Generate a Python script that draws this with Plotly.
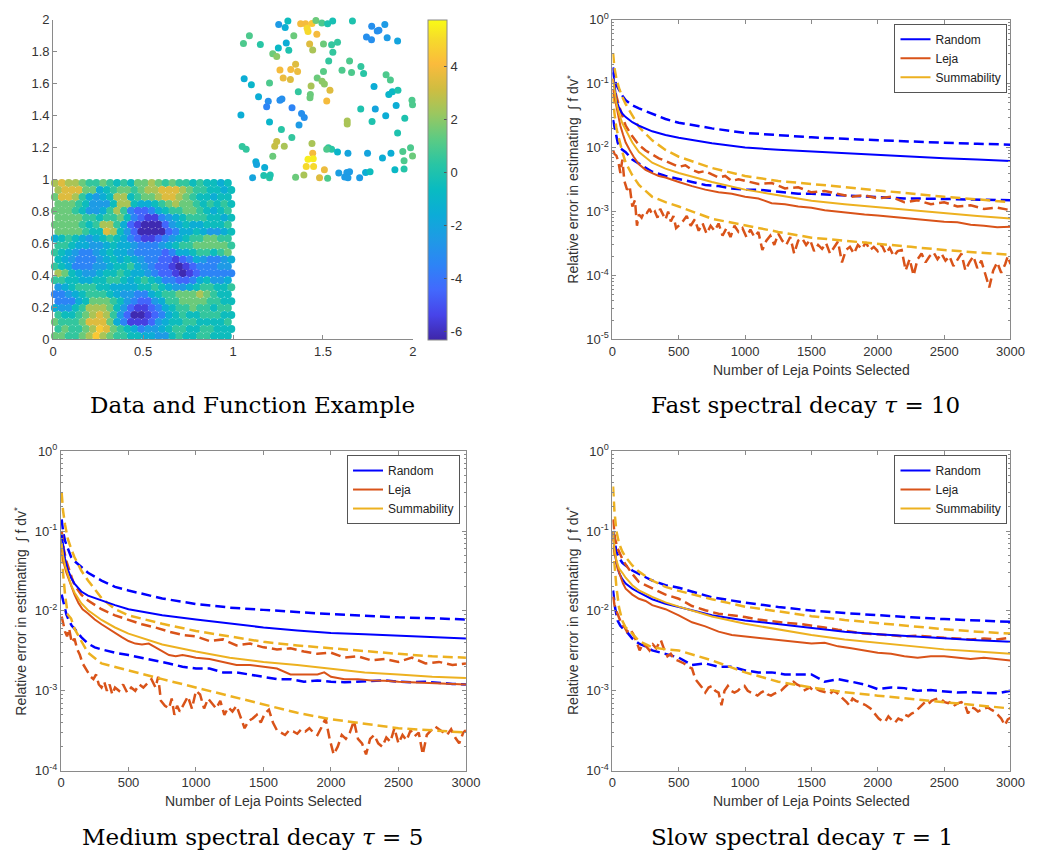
import plotly.graph_objects as go

W, H = 1052, 863

BLUE = "#0000FF"
RED = "#D95319"
GOLD = "#EDB120"
SANS = "Liberation Sans, Arial, Helvetica, sans-serif"
SERIF = "DejaVu Serif, serif"

# ---------------------------------------------------------------------------
# Scatter panel: sample points in [1,2]x[1,2] with their function values
# ---------------------------------------------------------------------------
UPPER_X = [1.254, 1.29, 1.305, 1.376, 1.403, 1.412, 1.417, 1.439, 1.461, 1.494, 1.526, 1.554, 1.664,
           1.771, 1.802, 1.811, 1.844, 1.466, 1.338, 1.091, 1.058, 1.152, 1.296, 1.742, 1.77, 1.857,
           1.915, 1.426, 1.503, 1.548, 1.581, 1.252, 1.31, 1.443, 1.555, 1.221, 1.243, 1.532, 1.648,
           1.711, 1.726, 1.348, 1.261, 1.321, 1.359, 1.503, 1.606, 1.659, 1.851, 1.875, 1.279, 1.319,
           1.062, 1.102, 1.468, 1.495, 1.508, 1.203, 1.434, 1.784, 1.539, 1.363, 1.43, 1.428, 1.866,
           1.886, 1.917, 1.142, 1.272, 1.261, 1.196, 1.521, 1.995, 1.998, 1.907, 1.187, 1.328, 1.71,
           1.791, 1.044, 1.381, 1.396, 1.849, 1.955, 1.635, 1.635, 1.203, 1.367, 1.773, 1.269, 1.915,
           1.327, 1.243, 1.232, 1.285, 1.439, 1.051, 1.073, 1.53, 1.548, 1.521, 1.581, 1.639, 1.748,
           1.878, 1.944, 1.987, 1.998, 1.443, 1.221, 1.831, 1.417, 1.446, 1.127, 1.131, 1.951, 1.407,
           1.448, 1.176, 1.508, 1.9, 1.951, 1.588, 1.633, 1.648, 1.737, 1.762, 1.109, 1.171, 1.203,
           1.207, 1.348, 1.394, 1.481, 1.526, 1.621, 1.639, 1.704]
UPPER_Y = [1.971, 1.951, 1.992, 1.975, 1.975, 1.947, 1.926, 1.977, 1.996, 1.98, 1.975, 1.992, 1.992,
           1.959, 1.93, 1.934, 1.971, 1.91, 1.9, 1.9, 1.852, 1.846, 1.855, 1.893, 1.875, 1.887,
           1.867, 1.848, 1.848, 1.844, 1.859, 1.824, 1.809, 1.811, 1.797, 1.787, 1.77, 1.742, 1.742,
           1.707, 1.664, 1.721, 1.686, 1.689, 1.676, 1.676, 1.684, 1.67, 1.656, 1.623, 1.635, 1.627,
           1.631, 1.594, 1.635, 1.615, 1.598, 1.605, 1.586, 1.582, 1.559, 1.549, 1.533, 1.512, 1.533,
           1.549, 1.559, 1.518, 1.504, 1.496, 1.49, 1.492, 1.496, 1.469, 1.463, 1.455, 1.449, 1.441,
           1.441, 1.404, 1.414, 1.389, 1.4, 1.383, 1.367, 1.348, 1.361, 1.342, 1.363, 1.314, 1.291,
           1.264, 1.238, 1.209, 1.209, 1.225, 1.207, 1.189, 1.199, 1.189, 1.189, 1.172, 1.164, 1.164,
           1.164, 1.176, 1.199, 1.148, 1.164, 1.146, 1.135, 1.127, 1.131, 1.111, 1.094, 1.117, 1.082,
           1.082, 1.076, 1.061, 1.061, 1.066, 1.041, 1.045, 1.049, 1.045, 1.049, 1.012, 1.025, 1.012,
           1.029, 1.014, 1.029, 1.012, 1.008, 1.016, 1.012, 1.012]
UPPER_F = [-2.5, -1.5, -0.5, 4, 4, 5, 5, 4.5, 1.5, 1, 0, -0.2, 0,
           -3, -3, -3, -2.5, 4, 1.5, 1, 1, 0.3, -1.5, -3, -3, -2.5,
           -2, 3.5, 1.5, 0.5, 0.5, -0.8, 0, 2.5, 0.5, 1.5, 2, 0.5, 1,
           0.5, 0.3, 3.5, 4, 4, 3.8, 1.2, 1, 1, 1, 1, 3.8, 3.5,
           -1.5, -1, 1.5, 2, 2, 1, 2.5, -1.5, 3.5, 0.5, 1.5, 1.5, -1,
           -0.8, 0, -1.5, -3, -3, -3, 4, 1, 1, -1.5, -3.5, -3.5, 0,
           -2, -1.5, -3, -3, -1.5, 0, 2.5, 2.5, -1, -2.5, 0, 0.3, 0,
           0.5, 3, 3, 2.5, 2.5, 0.5, 0.5, 0.5, 0.3, 1, -1, -2, -2,
           -1.5, 1, 1, 1.5, 4, 1.5, -1.5, 5.5, 5.5, -1.5, -2, 1, 5,
           5, -1.5, 3.8, -0.8, 0.2, -2.3, -2.5, -2.5, -1.5, -0.5, -2, 0, 0.3,
           0, 1.5, 2.5, 3.5, 1, -2.5, -2.5, -2.5]

# Dense block [0,1]x[0,1]: function level at each site of a staggered
# 26 x 23 sampling lattice, rows listed from y = 1 down to y = 0.
LOWER_ROWS = [
    "JKJJIHHIHGHGIIJIHIHHGHGGFG",
    "JKKKIIFGHIIHIJJKKKJIHHGGFG",
    "IKKJHFEFGJJGHIIJKKJIHGGFGG",
    "IIIHGEEEGJJGFFGHIJIIHGHGHG",
    "IIIHGEEFHJHDCCDFGHHIIHGFGH",
    "IIIIHHGHHIGDCBBDEFGHHHGGFG",
    "IIIIHGHJJHFCBAAACEFGFFGGGH",
    "IIIIHGGKJGECAAAACDFFGFEEFG",
    "FGHGFEFGHGFDCBBCDEFGHHIIHH",
    "HHGFFEEFGFFEDDDEFGHHIIIIIH",
    "HGFEDDEFGFFEDDDDCDFFGHHGHI",
    "GFEDDDEFGFGFEDDCCBCDFEDDEF",
    "HGFDDDEEFGGHFEDCCBABCDDDEE",
    "JIGFEEFGGHGFFEDCCBABCDDDDD",
    "HHGGFFGGHHGFGHGFDDCCDFGEEF",
    "EFGHHHGGFFFFGGHGFEEFGHHGGH",
    "DDEFGHHHGFEEDDFGHHIIIJIHGG",
    "DDDFGIIIHGEDCCEFHHIIIIHHGG",
    "FEEGHJJJIGECBBCDFGHHIHHGHH",
    "HGGHIJKJHECAABCDFGHGGHHHGG",
    "IHHHIKKKIFDBBBCEFGGHHGGGGH",
    "HIHHIJLKIHGFDEEFGHHGGHHGGG",
    "IIHHIJLJIHHGGFFEEGHGGHHGGG",
]
LEVEL_VALUES = {"A": -6.2, "B": -5.5, "C": -4.5, "D": -3.5, "E": -2.5, "F": -1.5, "G": -0.5,
                "H": 0.5, "I": 1.5, "J": 2.5, "K": 3.5, "L": 4.5, "M": 5.5}

COLOR_MIN, COLOR_MAX = -6.33, 5.78
CBAR_TICKS = [-6, -4, -2, 0, 2, 4]

# ---------------------------------------------------------------------------
# Error curves (relative error vs number of Leja points)
# ---------------------------------------------------------------------------
N_SMOOTH = [5, 15, 30, 50, 75, 100, 150, 200, 300, 400, 500, 750, 1000, 1250, 1500, 1750, 2000,
            2250, 2500, 2750, 3000]
N_STEP = [5, 20, 40, 60, 80, 100, 150, 200, 250, 300, 400, 500, 600, 700, 800, 900, 1000, 1100,
          1200, 1300, 1400, 1500, 1600, 1700, 1800, 1900, 2000, 2100, 2200, 2300, 2400, 2500,
          2600, 2700, 2800, 2900, 3000]

# --- fast spectral decay, tau = 10 ---
FAST_RAND_MID = [0.15, 0.09, 0.055, 0.042, 0.034, 0.03, 0.025, 0.022, 0.018, 0.0158, 0.0143, 0.0117,
                 0.01, 0.0093, 0.0087, 0.0081, 0.0076, 0.0072, 0.0068, 0.0065, 0.0062]
FAST_RAND_HI = [0.18, 0.12, 0.095, 0.08, 0.065, 0.055, 0.046, 0.041, 0.034, 0.028, 0.0245, 0.02,
                0.017, 0.0155, 0.0145, 0.0137, 0.013, 0.0124, 0.0119, 0.0115, 0.0111]
FAST_RAND_LO = [0.027, 0.018, 0.012, 0.0098, 0.009, 0.0085, 0.0065, 0.0056, 0.0048, 0.0042, 0.0036,
                0.0032, 0.0029, 0.0026, 0.0025, 0.0023, 0.0022, 0.0022, 0.0021, 0.002, 0.0019, 0.0019,
                0.00185, 0.0018, 0.00175, 0.00175, 0.0017, 0.00165, 0.0016, 0.0016, 0.00158, 0.0016,
                0.00155, 0.00152, 0.0015, 0.0015, 0.0015]
FAST_SUM_MID = [0.12, 0.08, 0.05, 0.034, 0.024, 0.019, 0.012, 0.0085, 0.0058, 0.0047, 0.004, 0.0029,
                0.0022, 0.0018, 0.00148, 0.0013, 0.00117, 0.00104, 0.00093, 0.00085, 0.00078]
FAST_SUM_HI = [0.3, 0.18, 0.12, 0.085, 0.062, 0.048, 0.032, 0.021, 0.013, 0.0092, 0.0072, 0.0048,
               0.0036, 0.003, 0.0027, 0.0024, 0.0021, 0.0019, 0.0017, 0.00155, 0.0014]
FAST_SUM_LO = [0.07, 0.035, 0.02, 0.013, 0.0085, 0.0058, 0.0037, 0.0026, 0.0017, 0.0014, 0.0012,
               0.00077, 0.0006, 0.00048, 0.00039, 0.00035, 0.00032, 0.00028, 0.00025, 0.00023, 0.00021]
FAST_LEJA_MID_N = [5, 20, 40, 60, 80, 100, 130, 160, 200, 250, 300, 350, 400, 450, 500, 600, 700, 800,
                   900, 1000, 1100, 1200, 1300, 1400, 1500, 1600, 1700, 1800, 1900, 2000, 2100, 2200,
                   2300, 2400, 2500, 2600, 2700, 2800, 2900, 3000]
FAST_LEJA_MID = [0.08, 0.055, 0.033, 0.022, 0.016, 0.012, 0.0092, 0.0072, 0.0055, 0.0045, 0.004, 0.0036,
                 0.0034, 0.0031, 0.0029, 0.0025, 0.0022, 0.002, 0.0019, 0.0017, 0.0016, 0.00135, 0.0013,
                 0.0012, 0.00115, 0.00105, 0.001, 0.00093, 0.0009, 0.00087, 0.00083, 0.00081, 0.00077,
                 0.00073, 0.00069, 0.00068, 0.00062, 0.0006, 0.00057, 0.00058]
FAST_LEJA_HI_N = [5, 25, 50, 75, 100, 150, 200, 250, 300, 350, 400, 450, 500, 550, 600, 650, 700, 750,
                  800, 850, 900, 950, 1000, 1100, 1200, 1300, 1400, 1500, 1600, 1700, 1800, 1900, 2000,
                  2100, 2200, 2300, 2400, 2500, 2600, 2700, 2800, 2900, 3000]
FAST_LEJA_HI = [0.12, 0.07, 0.045, 0.03, 0.022, 0.015, 0.011, 0.009, 0.0078, 0.0068, 0.0062, 0.0056,
                0.005, 0.0053, 0.0045, 0.0041, 0.0043, 0.0038, 0.0034, 0.0036, 0.003, 0.0032, 0.003,
                0.0027, 0.0028, 0.0023, 0.0024, 0.002, 0.0021, 0.0019, 0.0017, 0.0018, 0.0016, 0.0017,
                0.0014, 0.0015, 0.0013, 0.0014, 0.0012, 0.00125, 0.0011, 0.00115, 0.00105]
FAST_LEJA_LO_N = [5, 15, 30, 45, 60, 75, 90, 110, 130, 150, 170, 185, 200, 220, 240, 260, 280, 300,
                  320, 340, 360, 380, 400, 420, 440, 460, 480, 500, 530, 560, 590, 620, 650, 680, 710,
                  740, 770, 800, 830, 860, 890, 920, 950, 980, 1010, 1040, 1070, 1100, 1130, 1160,
                  1190, 1220, 1250, 1280, 1310, 1340, 1370, 1400, 1430, 1460, 1490, 1520, 1550, 1580,
                  1610, 1640, 1670, 1700, 1730, 1760, 1790, 1820, 1850, 1880, 1910, 1940, 1970, 2000,
                  2030, 2060, 2090, 2120, 2150, 2180, 2210, 2240, 2270, 2300, 2330, 2360, 2390, 2420,
                  2450, 2480, 2510, 2540, 2570, 2600, 2630, 2660, 2690, 2720, 2750, 2780, 2810, 2840,
                  2870, 2900, 2930, 2960, 2980, 3000]
FAST_LEJA_LO = [0.009, 0.008, 0.0075, 0.006, 0.004, 0.0065, 0.003, 0.0022, 0.0025, 0.0012, 0.0015,
                0.0006, 0.0009, 0.0008, 0.001, 0.00095, 0.0011, 0.0009, 0.001, 0.0008, 0.0011, 0.0009,
                0.00075, 0.001, 0.0007, 0.00085, 0.00055, 0.0006, 0.0007, 0.00085, 0.0006, 0.00075,
                0.0005, 0.00065, 0.00045, 0.0006, 0.0005, 0.00065, 0.00042, 0.00055, 0.0004, 0.0006,
                0.00048, 0.00055, 0.0004, 0.00052, 0.0004, 0.00048, 0.00025, 0.00035, 0.00042, 0.0003,
                0.00045, 0.00035, 0.0003, 0.0004, 0.00022, 0.00035, 0.00038, 0.0003, 0.00036, 0.00024,
                0.0003, 0.00026, 0.00032, 0.00022, 0.00027, 0.00034, 0.00016, 0.00025, 0.00028,
                0.00022, 0.0003, 0.00026, 0.00033, 0.00025, 0.00028, 0.00024, 0.0003, 0.00022,
                0.00027, 0.0002, 0.00024, 0.00025, 0.00012, 0.00018, 0.0001, 0.00018, 0.00022,
                0.00016, 0.0002, 0.00023, 0.00018, 0.00022, 0.00017, 0.0002, 0.00014, 0.00018,
                0.00022, 0.00012, 0.00016, 0.0002, 0.00013, 0.00017, 0.0001, 0.000065, 0.00012,
                0.00016, 0.00011, 0.00015, 0.0002, 0.00015]

# --- medium spectral decay, tau = 5 ---
MED_RAND_MID = [0.09, 0.065, 0.045, 0.033, 0.026, 0.022, 0.0175, 0.0155, 0.0135, 0.0118, 0.0105, 0.0088,
                0.0078, 0.0069, 0.0062, 0.0057, 0.0053, 0.0051, 0.0049, 0.0047, 0.0045]
MED_RAND_HI = [0.14, 0.1, 0.075, 0.06, 0.047, 0.042, 0.035, 0.03, 0.024, 0.02, 0.018, 0.0143, 0.0122,
               0.011, 0.0103, 0.0096, 0.0091, 0.0087, 0.0083, 0.0081, 0.0078]
MED_RAND_LO = [0.016, 0.012, 0.009, 0.0075, 0.0065, 0.006, 0.0047, 0.0039, 0.0035, 0.0033, 0.003,
               0.0028, 0.0026, 0.0024, 0.0022, 0.002, 0.0019, 0.0019, 0.0017, 0.0017, 0.0016, 0.0015,
               0.0014, 0.0014, 0.0013, 0.00135, 0.0013, 0.00128, 0.0013, 0.00132, 0.00135, 0.0013,
               0.00128, 0.0013, 0.00125, 0.00122, 0.0012]
MED_SUM_MID = [0.07, 0.05, 0.037, 0.028, 0.021, 0.017, 0.0125, 0.0102, 0.0077, 0.0062, 0.0052, 0.0038,
               0.0031, 0.0026, 0.0023, 0.0021, 0.0019, 0.0017, 0.0016, 0.0015, 0.00145]
MED_SUM_HI = [0.3, 0.18, 0.12, 0.08, 0.06, 0.047, 0.032, 0.024, 0.0145, 0.0105, 0.0088, 0.0069, 0.0056,
              0.0048, 0.0041, 0.0037, 0.0034, 0.0031, 0.0029, 0.0027, 0.0026]
MED_SUM_LO = [0.08, 0.03, 0.016, 0.009, 0.008, 0.006, 0.0042, 0.003, 0.0022, 0.002, 0.0018, 0.0014,
              0.0011, 0.00085, 0.00067, 0.00053, 0.00044, 0.00039, 0.00034, 0.00032, 0.0003]
MED_LEJA_MID_N = [5, 20, 40, 60, 80, 100, 130, 160, 200, 250, 300, 350, 400, 450, 500, 550, 600, 650,
                  700, 750, 800, 850, 900, 950, 1000, 1100, 1200, 1300, 1400, 1500, 1600, 1700, 1800,
                  1900, 1950, 2000, 2100, 2200, 2300, 2400, 2500, 2600, 2700, 2800, 2900, 3000]
MED_LEJA_MID = [0.06, 0.04, 0.03, 0.024, 0.019, 0.016, 0.0125, 0.0105, 0.0093, 0.0078, 0.0068, 0.006,
                0.0052, 0.0047, 0.0042, 0.0039, 0.0038, 0.0039, 0.0035, 0.0031, 0.0028, 0.0027, 0.0028,
                0.0027, 0.0026, 0.0025, 0.0023, 0.0021, 0.0021, 0.002, 0.0019, 0.0016, 0.0016, 0.0016,
                0.0017, 0.0015, 0.0014, 0.0014, 0.00135, 0.00134, 0.0013, 0.00128, 0.00125, 0.00124,
                0.0012, 0.0012]
MED_LEJA_HI = [0.1, 0.06, 0.042, 0.032, 0.026, 0.021, 0.016, 0.0135, 0.012, 0.0105, 0.0088, 0.0078,
               0.0068, 0.0062, 0.0055, 0.005, 0.0048, 0.0042, 0.0044, 0.0037, 0.0039, 0.0035, 0.0033,
               0.0034, 0.0031, 0.0029, 0.003, 0.0026, 0.0027, 0.0024, 0.0025, 0.0023, 0.0026, 0.0022,
               0.0023, 0.0021, 0.0022]
MED_LEJA_LO_N = [5, 15, 30, 45, 60, 80, 100, 120, 140, 160, 180, 200, 220, 240, 260, 280, 300, 320,
                 340, 360, 380, 400, 430, 460, 490, 520, 550, 580, 610, 640, 670, 700, 720, 740, 770,
                 800, 820, 840, 860, 880, 910, 940, 970, 1000, 1030, 1060, 1090, 1120, 1150, 1180,
                 1210, 1240, 1270, 1300, 1330, 1360, 1390, 1420, 1450, 1480, 1510, 1540, 1570, 1600,
                 1630, 1660, 1690, 1720, 1750, 1780, 1810, 1840, 1870, 1900, 1930, 1960, 1990, 2020,
                 2050, 2080, 2110, 2140, 2170, 2200, 2230, 2260, 2290, 2320, 2350, 2380, 2410, 2440,
                 2470, 2500, 2530, 2560, 2590, 2620, 2650, 2680, 2710, 2740, 2770, 2800, 2830, 2860,
                 2890, 2920, 2950, 2980, 3000]
MED_LEJA_LO = [0.0085, 0.007, 0.0055, 0.0048, 0.006, 0.004, 0.0045, 0.0033, 0.0028, 0.0022, 0.0019,
               0.0017, 0.0015, 0.0014, 0.0016, 0.0012, 0.0011, 0.0013, 0.001, 0.0012, 0.0009, 0.0011,
               0.001, 0.0012, 0.00095, 0.0011, 0.001, 0.0012, 0.0011, 0.00125, 0.0014, 0.0011, 0.0015,
               0.00075, 0.00065, 0.0006, 0.0008, 0.0005, 0.00065, 0.00055, 0.0007, 0.00085, 0.0006,
               0.001, 0.0009, 0.0006, 0.0008, 0.0007, 0.0006, 0.00075, 0.0005, 0.00062, 0.00055,
               0.00065, 0.00048, 0.00034, 0.00042, 0.00045, 0.0005, 0.0004, 0.00052, 0.00058, 0.0004,
               0.00032, 0.0003, 0.00028, 0.00032, 0.00031, 0.00029, 0.00033, 0.00031, 0.00034, 0.0003,
               0.00028, 0.00035, 0.00045, 0.00025, 0.00016, 0.0002, 0.00028, 0.00025, 0.0003, 0.00042,
               0.00025, 0.00022, 0.00016, 0.00025, 0.00028, 0.00022, 0.0002, 0.00026, 0.00023,
               0.00034, 0.00022, 0.00028, 0.00024, 0.00032, 0.00027, 0.0003, 0.00016, 0.00028,
               0.00032, 0.00036, 0.00033, 0.0003, 0.00028, 0.00033, 0.00026, 0.00022, 0.0003, 0.00032]

# --- slow spectral decay, tau = 1 ---
SLOW_RAND_MID = [0.1, 0.06, 0.04, 0.03, 0.025, 0.022, 0.019, 0.017, 0.014, 0.0123, 0.0112, 0.0088,
                 0.0076, 0.0068, 0.0061, 0.0055, 0.0051, 0.0048, 0.0046, 0.0043, 0.0041]
SLOW_RAND_HI = [0.1, 0.075, 0.055, 0.046, 0.04, 0.037, 0.032, 0.029, 0.024, 0.021, 0.0195, 0.0148,
                0.0127, 0.0112, 0.0101, 0.0094, 0.0088, 0.0083, 0.0079, 0.0076, 0.0073]
SLOW_RAND_LO = [0.018, 0.011, 0.0075, 0.0065, 0.006, 0.0057, 0.0045, 0.0039, 0.0036, 0.0032, 0.0029,
                0.0026, 0.0021, 0.0022, 0.002, 0.002, 0.0018, 0.0017, 0.0017, 0.0016, 0.0016, 0.0016,
                0.0013, 0.0014, 0.0013, 0.0012, 0.00105, 0.0011, 0.00108, 0.001, 0.00102, 0.00098,
                0.00095, 0.00096, 0.00094, 0.00093, 0.001]
SLOW_SUM_MID = [0.1, 0.06, 0.043, 0.034, 0.03, 0.026, 0.021, 0.018, 0.015, 0.0128, 0.0113, 0.0085,
                0.0069, 0.0059, 0.005, 0.0044, 0.004, 0.0036, 0.0033, 0.0031, 0.0029]
SLOW_SUM_HI = [0.36, 0.18, 0.1, 0.07, 0.055, 0.047, 0.037, 0.031, 0.024, 0.02, 0.0178, 0.014, 0.0113,
               0.0098, 0.0086, 0.0077, 0.007, 0.0064, 0.0059, 0.0055, 0.0052]
SLOW_SUM_LO = [0.1, 0.04, 0.02, 0.011, 0.0075, 0.0062, 0.0052, 0.0042, 0.0035, 0.0033, 0.0032, 0.0024,
               0.0017, 0.0013, 0.0011, 0.00096, 0.00087, 0.0008, 0.00072, 0.00066, 0.0006]
SLOW_LEJA_MID = [0.08, 0.05, 0.034, 0.027, 0.022, 0.019, 0.016, 0.0142, 0.0133, 0.0118, 0.0105, 0.0088,
                 0.0072, 0.0064, 0.0055, 0.005, 0.0048, 0.0046, 0.0044, 0.0043, 0.0041, 0.0039, 0.004,
                 0.0036, 0.0034, 0.0032, 0.003, 0.0029, 0.0027, 0.0026, 0.0027, 0.0027, 0.0026, 0.0025,
                 0.0026, 0.0025, 0.0024]
SLOW_LEJA_HI = [0.14, 0.08, 0.06, 0.05, 0.043, 0.038, 0.029, 0.023, 0.021, 0.019, 0.016, 0.0142,
                0.0115, 0.0102, 0.0092, 0.0088, 0.0084, 0.0078, 0.0074, 0.0071, 0.0069, 0.0066, 0.0062,
                0.0058, 0.0055, 0.0052, 0.0051, 0.005, 0.0048, 0.0049, 0.0047, 0.0046, 0.0045, 0.0044,
                0.0045, 0.0044, 0.0046]
SLOW_LEJA_LO_N = [5, 15, 30, 50, 70, 90, 110, 130, 155, 180, 205, 230, 255, 280, 305, 330, 365, 390,
                  415, 440, 465, 490, 515, 540, 570, 600, 625, 650, 675, 700, 725, 750, 775, 800, 822,
                  845, 870, 895, 920, 945, 970, 995, 1020, 1045, 1070, 1094, 1120, 1145, 1170, 1195,
                  1220, 1245, 1270, 1295, 1320, 1345, 1365, 1390, 1415, 1440, 1465, 1490, 1515, 1540,
                  1565, 1590, 1615, 1640, 1665, 1690, 1715, 1740, 1765, 1785, 1810, 1835, 1860, 1885,
                  1910, 1945, 1975, 2007, 2030, 2055, 2080, 2105, 2130, 2155, 2180, 2205, 2230, 2255,
                  2279, 2305, 2330, 2355, 2380, 2405, 2430, 2455, 2480, 2505, 2530, 2555, 2580, 2605,
                  2630, 2655, 2680, 2705, 2730, 2755, 2780, 2805, 2830, 2855, 2880, 2905, 2930, 2958,
                  2980, 3000]
SLOW_LEJA_LO = [0.015, 0.012, 0.01, 0.0083, 0.0068, 0.0063, 0.0055, 0.006, 0.0052, 0.0042, 0.0032,
                0.0039, 0.0036, 0.0032, 0.0038, 0.0034, 0.0043, 0.0033, 0.0027, 0.0029, 0.0025, 0.0024,
                0.0023, 0.0022, 0.002, 0.0019, 0.0014, 0.00126, 0.0011, 0.00095, 0.0011, 0.00115,
                0.001, 0.00095, 0.00066, 0.001, 0.00115, 0.001, 0.00095, 0.001, 0.0011, 0.00115, 0.001,
                0.00095, 0.0009, 0.00087, 0.00095, 0.001, 0.0009, 0.00087, 0.00092, 0.00095, 0.001,
                0.0011, 0.0012, 0.00125, 0.0013, 0.0012, 0.00115, 0.001, 0.00105, 0.0011, 0.001,
                0.00105, 0.001, 0.00098, 0.00095, 0.00092, 0.001, 0.00095, 0.00087, 0.0008, 0.00072,
                0.00066, 0.0008, 0.00075, 0.00072, 0.0007, 0.00066, 0.0006, 0.00052, 0.00045, 0.00042,
                0.00041, 0.00048, 0.00043, 0.0004, 0.00045, 0.00043, 0.0005, 0.00048, 0.00052, 0.00054,
                0.0006, 0.00065, 0.00072, 0.00068, 0.00075, 0.00078, 0.0008, 0.00078, 0.00072, 0.0007,
                0.00074, 0.00066, 0.0007, 0.00072, 0.00068, 0.00052, 0.00062, 0.0006, 0.00055, 0.00058,
                0.0006, 0.00062, 0.00058, 0.00055, 0.0005, 0.00045, 0.00037, 0.00044, 0.00046]

LOG_TICK_EXP = [-5, -4, -3, -2, -1, 0]
N_TICKS = [0, 500, 1000, 1500, 2000, 2500, 3000]


def fx(px):
    return px / W


def fy(py):
    return 1 - py / H


AXIS_COLOR = "#8a8a8a"
TICK_FONT = dict(family=SANS, size=13, color="#333333")

PARULA = [
    [0.000, "rgb(62,38,168)"], [0.078, "rgb(71,68,233)"], [0.157, "rgb(66,105,253)"],
    [0.235, "rgb(45,132,246)"], [0.314, "rgb(31,154,229)"], [0.392, "rgb(12,172,215)"],
    [0.471, "rgb(9,187,193)"], [0.549, "rgb(41,197,164)"], [0.627, "rgb(91,203,132)"],
    [0.706, "rgb(154,199,96)"], [0.784, "rgb(207,189,65)"], [0.863, "rgb(251,187,60)"],
    [0.941, "rgb(246,219,43)"], [1.000, "rgb(249,251,21)"],
]

fig = go.Figure()

# ----- scatter panel -----
n_rows = len(LOWER_ROWS)
low_x, low_y, low_f = [], [], []
for r, row in enumerate(LOWER_ROWS):
    n_cols = len(row)
    shift = 0.25 if r % 2 else -0.25
    for c, ch in enumerate(row):
        if ch not in LEVEL_VALUES:
            continue
        low_x.append((c + 0.5 + shift) / n_cols)
        low_y.append(1 - (r + 0.5) / n_rows)
        low_f.append(LEVEL_VALUES[ch])

marker_common = dict(colorscale=PARULA, cmin=COLOR_MIN, cmax=COLOR_MAX, line=dict(width=0))
fig.add_trace(go.Scatter(
    x=low_x, y=low_y, mode="markers", xaxis="x", yaxis="y", showlegend=False, cliponaxis=False,
    marker=dict(color=low_f, size=8, **marker_common),
))
fig.add_trace(go.Scatter(
    x=UPPER_X, y=UPPER_Y, mode="markers", xaxis="x", yaxis="y", showlegend=False, cliponaxis=False,
    marker=dict(color=UPPER_F, size=7, showscale=True,
                colorbar=dict(x=fx(431), xanchor="left", y=fy(11), yanchor="top",
                              len=(337 - 11) / H, lenmode="fraction", thickness=19,
                              thicknessmode="pixels", xpad=0, ypad=0, outlinewidth=1,
                              outlinecolor=AXIS_COLOR, ticks="inside", ticklen=3,
                              tickcolor="#555555", tickvals=CBAR_TICKS,
                              ticktext=[str(v) for v in CBAR_TICKS], tickfont=TICK_FONT),
                **marker_common),
))

# ----- error panels -----
panels = [
    ("x2", "y2", "legend", dict(
        rand=(N_SMOOTH, FAST_RAND_MID, N_SMOOTH, FAST_RAND_HI, N_STEP, FAST_RAND_LO),
        leja=(FAST_LEJA_MID_N, FAST_LEJA_MID, FAST_LEJA_HI_N, FAST_LEJA_HI, FAST_LEJA_LO_N, FAST_LEJA_LO),
        summ=(N_SMOOTH, FAST_SUM_MID, N_SMOOTH, FAST_SUM_HI, N_SMOOTH, FAST_SUM_LO))),
    ("x3", "y3", "legend2", dict(
        rand=(N_SMOOTH, MED_RAND_MID, N_SMOOTH, MED_RAND_HI, N_STEP, MED_RAND_LO),
        leja=(MED_LEJA_MID_N, MED_LEJA_MID, N_STEP, MED_LEJA_HI, MED_LEJA_LO_N, MED_LEJA_LO),
        summ=(N_SMOOTH, MED_SUM_MID, N_SMOOTH, MED_SUM_HI, N_SMOOTH, MED_SUM_LO))),
    ("x4", "y4", "legend3", dict(
        rand=(N_SMOOTH, SLOW_RAND_MID, N_SMOOTH, SLOW_RAND_HI, N_STEP, SLOW_RAND_LO),
        leja=(N_STEP, SLOW_LEJA_MID, N_STEP, SLOW_LEJA_HI, SLOW_LEJA_LO_N, SLOW_LEJA_LO),
        summ=(N_SMOOTH, SLOW_SUM_MID, N_SMOOTH, SLOW_SUM_HI, N_SMOOTH, SLOW_SUM_LO))),
]
names = [("rand", "Random", BLUE), ("leja", "Leja", RED), ("summ", "Summability", GOLD)]
DASH = "10px,5px"

for xa, ya, leg, series in panels:
    for key, label, color in names:
        n_mid, v_mid, n_hi, v_hi, n_lo, v_lo = series[key]
        fig.add_trace(go.Scatter(x=n_hi, y=v_hi, mode="lines", xaxis=xa, yaxis=ya,
                                 line=dict(color=color, width=2.5, dash=DASH), showlegend=False))
        fig.add_trace(go.Scatter(x=n_lo, y=v_lo, mode="lines", xaxis=xa, yaxis=ya,
                                 line=dict(color=color, width=2.5, dash=DASH), showlegend=False))
    for key, label, color in names:
        n_mid, v_mid = series[key][0], series[key][1]
        fig.add_trace(go.Scatter(x=n_mid, y=v_mid, mode="lines", xaxis=xa, yaxis=ya, name=label,
                                 line=dict(color=color, width=2), legend=leg))

# ----- axes -----
lin_common = dict(showline=True, linecolor=AXIS_COLOR, linewidth=1, ticks="inside", ticklen=4,
                  tickcolor=AXIS_COLOR, showgrid=False, zeroline=False, tickfont=TICK_FONT)


def log_axis(lo_exp, domain, anchor):
    exps = [e for e in LOG_TICK_EXP if e >= lo_exp]
    return dict(type="log", range=[lo_exp, 0], domain=domain, anchor=anchor, mirror="allticks",
                tickmode="array", tickvals=[10.0 ** e for e in exps],
                ticktext=["10<sup>%d</sup>" % e for e in exps],
                minor=dict(tickmode="array",
                           tickvals=[k * 10.0 ** e for e in range(lo_exp, 0) for k in range(2, 10)],
                           ticks="inside", ticklen=2, tickcolor=AXIS_COLOR, showgrid=False),
                **lin_common)


def n_axis(domain, anchor):
    return dict(range=[0, 3000], domain=domain, anchor=anchor, mirror="allticks", tickmode="array",
                tickvals=N_TICKS, ticktext=[str(t) for t in N_TICKS], **lin_common)


top = [fy(337), fy(11)]
bottom = [fy(777), fy(451)]
right_x = [fx(619), fx(1024)]

layout_axes = dict(
    xaxis=dict(range=[0, 2], domain=[fx(50), fx(416)], anchor="y", tickmode="array",
               tickvals=[0, 0.5, 1, 1.5, 2], ticktext=["0", "0.5", "1", "1.5", "2"], **lin_common),
    yaxis=dict(range=[0, 2], domain=top, anchor="x", tickmode="array",
               tickvals=[i * 0.2 for i in range(11)],
               ticktext=["0", "0.2", "0.4", "0.6", "0.8", "1", "1.2", "1.4", "1.6", "1.8", "2"],
               **lin_common),
    xaxis2=n_axis(right_x, "y2"),
    yaxis2=log_axis(-5, top, "x2"),
    xaxis3=n_axis([fx(58), fx(470)], "y3"),
    yaxis3=log_axis(-4, bottom, "x3"),
    xaxis4=n_axis(right_x, "y4"),
    yaxis4=log_axis(-4, bottom, "x4"),
)

legend_common = dict(xanchor="left", yanchor="top", bgcolor="white", bordercolor="#555555",
                     borderwidth=1, font=dict(family=SANS, size=12, color="#222222"),
                     tracegroupgap=0, itemwidth=30)

YLABEL = "Relative error in estimating  \u222b f dv<sup>*</sup>"
XLABEL = "Number of Leja Points Selected"
label_font = dict(family=SANS, size=14, color="#333333")
title_font = dict(family=SERIF, size=23, color="#000000")


def ann(text, x, y, font, angle=0):
    return dict(text=text, x=fx(x), y=fy(y), xref="paper", yref="paper", showarrow=False,
                xanchor="center", yanchor="middle", font=font, textangle=angle)


annotations = [
    ann(XLABEL, 821.5, 368, label_font), ann(YLABEL, 578, 174, label_font, -90),
    ann(XLABEL, 264, 808, label_font), ann(YLABEL, 16, 614, label_font, -90),
    ann(XLABEL, 821.5, 808, label_font), ann(YLABEL, 578, 614, label_font, -90),
    ann("Data and Function Example", 253, 404, title_font),
    ann("Fast spectral decay <i>\u03c4</i> = 10", 815, 404, title_font),
    ann("Medium spectral decay <i>\u03c4</i> = 5", 253, 845, title_font),
    ann("Slow spectral decay <i>\u03c4</i> = 1", 812, 845, title_font),
]

fig.update_layout(
    width=W, height=H, margin=dict(l=0, r=0, t=0, b=0), paper_bgcolor="white",
    plot_bgcolor="white", font=dict(family=SANS),
    legend=dict(x=fx(906), y=fy(15), **legend_common),
    legend2=dict(x=fx(349), y=fy(455), **legend_common),
    legend3=dict(x=fx(906), y=fy(455), **legend_common),
    annotations=annotations,
    **layout_axes,
)

fig.write_html("out.html")
